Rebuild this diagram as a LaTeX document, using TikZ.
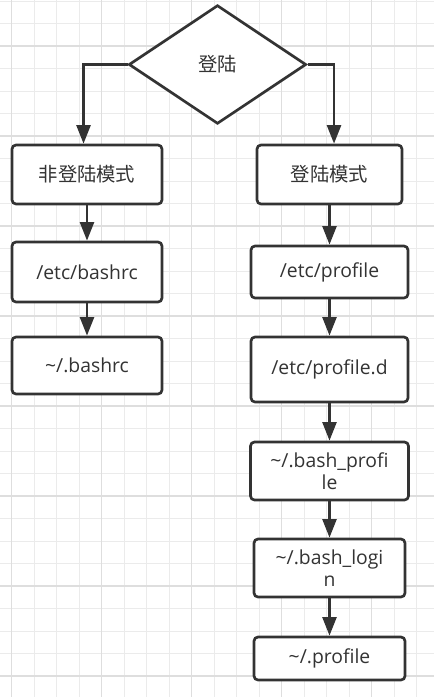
\documentclass[tikz,border=0pt]{standalone}
\usepackage{fontspec}
\setmainfont{Open Sans}
\newfontfamily\cjk{Noto Sans CJK SC}
\usetikzlibrary{shapes.geometric,arrows.meta}
\definecolor{ink}{HTML}{333333}
\definecolor{gridthin}{HTML}{EBEBEB}
\definecolor{gridthick}{HTML}{DEDEDE}

\begin{document}
\begin{tikzpicture}[x=0.75pt, y=-0.75pt,
    box/.style={draw=ink, line width=2pt, rounded corners=3pt, fill=white, text=ink,
        inner sep=0pt, align=center, font=\fontsize{14.5}{16.5}\selectfont},
    arr/.style={draw=ink, line width=2pt, -{Triangle[length=14pt, width=10.5pt]}}]
    \useasboundingbox (0,0) rectangle (434,697);
    \fill[white] (0,0) rectangle (434,697);

    % background grid
    \foreach \i in {0,...,18} \draw[gridthin, line width=0.75pt] ({11.7+22.5*\i},0) -- ({11.7+22.5*\i},697);
    \foreach \i in {0,...,30} \draw[gridthin, line width=0.75pt] (0,{1+22.5*\i}) -- (434,{1+22.5*\i});
    \foreach \i in {0,...,4} \draw[gridthick, line width=1.1pt] ({11.7+90*\i},0) -- ({11.7+90*\i},697);
    \foreach \i in {0,...,7} \draw[gridthick, line width=1.1pt] (0,{46+90*\i}) -- (434,{46+90*\i});

    \node[diamond, draw=ink, line width=2pt, fill=white, text=ink, inner sep=0pt,
        minimum width=133pt, minimum height=89pt, font=\fontsize{14.5}{16.5}\selectfont]
        (login) at (217.5,64.5) {\cjk 登陆};

    \node[box, minimum width=112.5pt, minimum height=44.25pt] (nonlog) at (87,174.5) {\cjk 非登陆模式};
    \node[box, minimum width=108.75pt, minimum height=44.25pt] (logmode) at (329.5,174.5) {\cjk 登陆模式};

    \node[box, minimum width=112.5pt, minimum height=45pt] (etcbashrc) at (87,272) {/etc/bashrc};
    \node[box, minimum width=112.5pt, minimum height=42.75pt] (homebashrc) at (87,365.5) {\textasciitilde/.bashrc};

    \node[box, minimum width=117.75pt, minimum height=39pt] (etcprofile) at (329.5,272) {/etc/profile};
    \node[box, minimum width=117.75pt, minimum height=48.75pt] (profiled) at (329.5,369.5) {/etc/profile.d};
    \node[box, minimum width=118.5pt, minimum height=43.5pt] (bashprofile) at (329.5,471) {\textasciitilde/.bash\_profi\\le};
    \node[box, minimum width=113.25pt, minimum height=43.5pt] (bashlogin) at (329.5,568) {\textasciitilde/.bash\_logi\\n};
    \node[box, minimum width=113.25pt, minimum height=32.25pt] (homeprofile) at (329.5,658.5) {\textasciitilde/.profile};

    \draw[arr] (login.west) -| ([xshift=-2.6pt]nonlog.north);
    \draw[arr] (login.east) -| ([xshift=3.4pt]logmode.north);

    \draw[arr] (nonlog) -- (etcbashrc);
    \draw[arr] (etcbashrc) -- (homebashrc);

    \draw[arr] (logmode) -- (etcprofile);
    \draw[arr] (etcprofile) -- (profiled);
    \draw[arr] (profiled) -- (bashprofile);
    \draw[arr] (bashprofile) -- (bashlogin);
    \draw[arr] (bashlogin) -- (homeprofile);
\end{tikzpicture}
\end{document}
